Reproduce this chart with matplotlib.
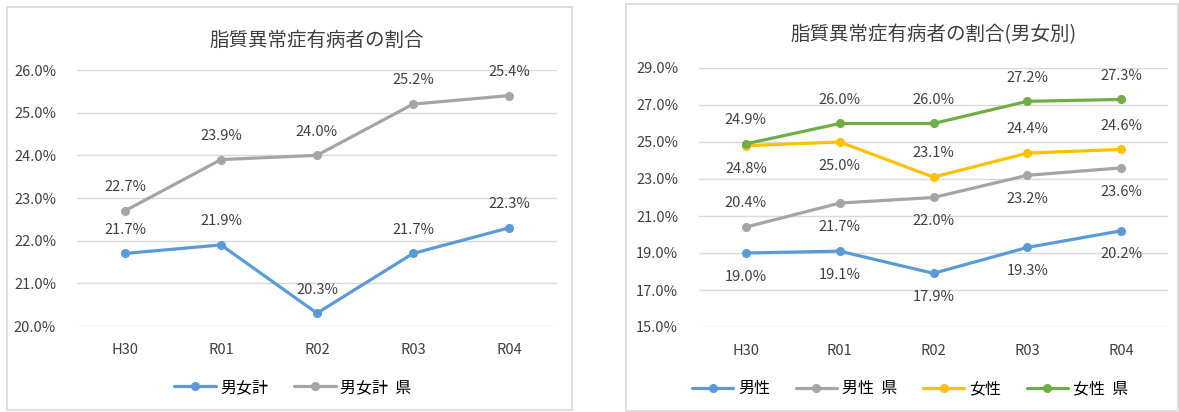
import matplotlib
matplotlib.use("Agg")
import matplotlib.pyplot as plt
from matplotlib.patches import Rectangle
from matplotlib.ticker import FuncFormatter

plt.rcParams['font.family'] = ['Noto Sans CJK JP', 'DejaVu Sans']

# 年度
years = ['H30', 'R01', 'R02', 'R03', 'R04']

# 男女計
total = [21.7, 21.9, 20.3, 21.7, 22.3]
total_pref = [22.7, 23.9, 24.0, 25.2, 25.4]

# 男女別
male = [19.0, 19.1, 17.9, 19.3, 20.2]
male_pref = [20.4, 21.7, 22.0, 23.2, 23.6]
female = [24.8, 25.0, 23.1, 24.4, 24.6]
female_pref = [24.9, 26.0, 26.0, 27.2, 27.3]

# ラベル位置 (1: 上, -1: 下)
male_pos = [-1, -1, -1, -1, -1]
male_pref_pos = [1, -1, -1, -1, -1]
female_pos = [-1, -1, 1, 1, 1]
female_pref_pos = [1, 1, 1, 1, 1]

BLUE = '#5B9BD5'
GRAY = '#A5A5A5'
YELLOW = '#FFC000'
GREEN = '#70AD47'
TEXT = '#404040'
GRID = '#D9D9D9'

fig = plt.figure(figsize=(11.79, 4.12), dpi=100)

# 外枠
W, H = 1179, 412
for x0, y0, x1, y1 in [(7, 7, 572, 410), (626, 4, 1178, 411)]:
    fig.patches.append(Rectangle((x0 / W, 1 - y1 / H), (x1 - x0) / W, (y1 - y0) / H,
                                 transform=fig.transFigure, fill=False,
                                 edgecolor=GRID, linewidth=1.2))


def draw_series(ax, vals, color, name, pos):
    xs = range(len(vals))
    ax.plot(xs, vals, color=color, lw=2.3, marker='o', ms=5.5, label=name,
            solid_capstyle='round')
    for x, v, p in zip(xs, vals, pos):
        ax.annotate(f'{v:.1f}%', (x, v), xytext=(0, 12 * p), textcoords='offset points',
                    ha='center', va='bottom' if p > 0 else 'top',
                    fontsize=10.5, color=TEXT)


def style_axes(ax, ymin, ymax, step):
    ax.set_xlim(-0.5, len(years) - 0.5)
    ax.set_ylim(ymin, ymax)
    ax.set_yticks([ymin + step * i for i in range(int(round((ymax - ymin) / step)) + 1)])
    ax.yaxis.set_major_formatter(FuncFormatter(lambda v, _: f'{v:.1f}%'))
    ax.set_xticks(range(len(years)))
    ax.set_xticklabels(years)
    ax.grid(axis='y', color=GRID, lw=1)
    ax.set_axisbelow(True)
    for s in ax.spines.values():
        s.set_visible(False)
    ax.tick_params(length=0, labelsize=10.5, labelcolor=TEXT)
    ax.tick_params(axis='y', pad=15)
    ax.tick_params(axis='x', pad=12)


# 左: 男女計
ax1 = fig.add_axes([77 / W, 1 - 326 / H, 480 / W, 256 / H])
draw_series(ax1, total, BLUE, '男女計', [1] * 5)
draw_series(ax1, total_pref, GRAY, '男女計  県', [1] * 5)
style_axes(ax1, 20, 26, 1)
ax1.set_title('脂質異常症有病者の割合', fontsize=14, color=TEXT, pad=17)
ax1.legend(loc='upper center', bbox_to_anchor=(0.45, -0.15), ncol=2, frameon=False,
           fontsize=11.5, handlelength=2.6, columnspacing=1.6, handletextpad=0.3)

# 右: 男女別
ax2 = fig.add_axes([699 / W, 1 - 327 / H, 469 / W, 259 / H])
draw_series(ax2, male, BLUE, '男性', male_pos)
draw_series(ax2, male_pref, GRAY, '男性  県', male_pref_pos)
draw_series(ax2, female, YELLOW, '女性', female_pos)
draw_series(ax2, female_pref, GREEN, '女性  県', female_pref_pos)
style_axes(ax2, 15, 29, 2)
ax2.set_title('脂質異常症有病者の割合(男女別)', fontsize=14, color=TEXT, pad=20)
ax2.legend(loc='upper center', bbox_to_anchor=(0.45, -0.15), ncol=4, frameon=False,
           fontsize=11.5, handlelength=2.6, columnspacing=1.6, handletextpad=0.3)

fig.savefig('out.png', dpi=100, facecolor='white')
